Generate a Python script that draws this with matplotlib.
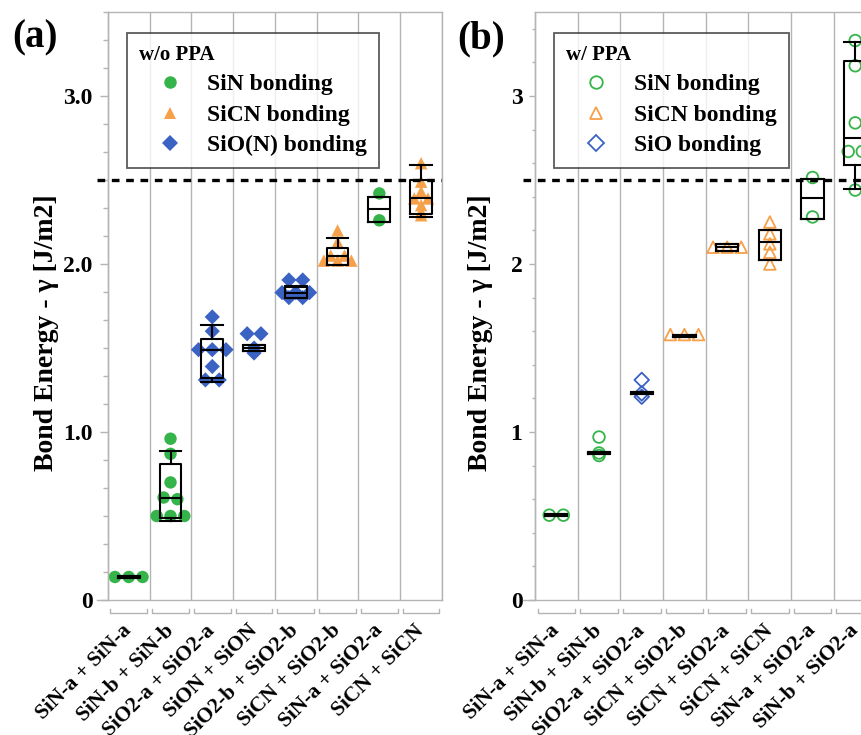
import numpy as np
import matplotlib
matplotlib.use('Agg')
import matplotlib.pyplot as plt
from matplotlib.lines import Line2D
from matplotlib.ticker import MultipleLocator, FixedFormatter

plt.rcParams['font.family'] = ['Liberation Serif', 'DejaVu Serif']
plt.rcParams['font.weight'] = 'bold'

GREEN = '#35b44a'
ORANGE = '#f6a04a'
BLUE = '#3b63c3'
GRID = '#b4b4b4'
COLORS = {'SiN': GREEN, 'SiCN': ORANGE, 'SiO': BLUE}
MARKERS = {'SiN': 'o', 'SiCN': '^', 'SiO': 'D'}

# ---- panel (a): w/o PPA ----
a_labels = ['SiN-a + SiN-a', 'SiN-b + SiN-b', 'SiO2-a + SiO2-a', 'SiON + SiON',
            'SiO2-b + SiO2-b', 'SiCN + SiO2-b', 'SiN-a + SiO2-a', 'SiCN + SiCN']
a_groups = ['SiN', 'SiN', 'SiO', 'SiO', 'SiO', 'SiCN', 'SiN', 'SiCN']
a_values = [
    [0.137, 0.137, 0.137],
    [0.96, 0.87, 0.70, 0.61, 0.60, 0.50, 0.50, 0.50],
    [1.685, 1.60, 1.49, 1.49, 1.49, 1.39, 1.31, 1.31],
    [1.585, 1.585, 1.50, 1.47],
    [1.905, 1.905, 1.83, 1.83, 1.83, 1.80, 1.80],
    [2.20, 2.13, 2.05, 2.05, 2.02, 2.02, 2.02],
    [2.42, 2.26],
    [2.60, 2.49, 2.43, 2.39, 2.39, 2.35, 2.31, 2.29],
]
a_q1 = [0.130, 0.49, 1.32, 1.48, 1.80, 1.995, 2.25, 2.30]
a_med = [0.137, 0.605, 1.49, 1.50, 1.83, 2.045, 2.33, 2.39]
a_q3 = [0.145, 0.81, 1.555, 1.52, 1.865, 2.095, 2.40, 2.50]
a_lo = [0.130, 0.47, 1.30, 1.48, 1.795, 1.995, 2.25, 2.28]
a_hi = [0.145, 0.885, 1.635, 1.52, 1.87, 2.155, 2.40, 2.59]

# ---- panel (b): w/ PPA ----
b_labels = ['SiN-a + SiN-a', 'SiN-b + SiN-b', 'SiO2-a + SiO2-a', 'SiCN + SiO2-b',
            'SiCN + SiO2-a', 'SiCN + SiCN', 'SiN-a + SiO2-a', 'SiN-b + SiO2-a']
b_groups = ['SiN', 'SiN', 'SiO', 'SiCN', 'SiCN', 'SiCN', 'SiN', 'SiN']
b_values = [
    [0.505, 0.505],
    [0.97, 0.875, 0.86],
    [1.31, 1.23, 1.21],
    [1.58, 1.58, 1.58],
    [2.10, 2.10, 2.10],
    [2.25, 2.18, 2.12, 2.07, 2.00],
    [2.515, 2.28],
    [3.33, 3.18, 2.84, 2.67, 2.67, 2.44],
]
b_q1 = [0.500, 0.868, 1.225, 1.565, 2.075, 2.025, 2.27, 2.59]
b_med = [0.505, 0.875, 1.232, 1.572, 2.10, 2.13, 2.39, 2.75]
b_q3 = [0.510, 0.882, 1.240, 1.580, 2.12, 2.20, 2.505, 3.21]
b_lo = [0.500, 0.868, 1.225, 1.565, 2.075, 2.025, 2.27, 2.445]
b_hi = [0.510, 0.882, 1.240, 1.580, 2.12, 2.20, 2.505, 3.32]


def swarm_offsets(vals, step=0.33, tol=0.012):
    order = np.argsort(vals)[::-1]
    offs = np.zeros(len(vals))
    clusters = []
    for idx in order:
        if clusters and abs(vals[clusters[-1][0]] - vals[idx]) <= tol:
            clusters[-1].append(idx)
        else:
            clusters.append([idx])
    for c in clusters:
        n = len(c)
        for k, idx in enumerate(c):
            offs[idx] = (k - (n - 1) / 2) * step
    return offs


def draw_panel(ax, xmin, labels, groups, values, q1, med, q3, lo, hi, filled,
               yticklabels, minor_step, title, names, label_x, tick_len):
    n = len(labels)
    ax.set_xlim(xmin, n)
    ax.set_ylim(0, 3.5)

    for i, vals in enumerate(values):
        vals = np.asarray(vals)
        x = i + 0.5 + swarm_offsets(vals)
        c = COLORS[groups[i]]
        m = MARKERS[groups[i]]
        if filled:
            ax.scatter(x, vals, s=80 if m != 'D' else 60, marker=m, color=c,
                       edgecolors='none', zorder=2)
        else:
            ax.scatter(x, vals, s=70 if m != 'D' else 55, marker=m, facecolors='none',
                       edgecolors=c, linewidths=1.3, zorder=2)

    stats = [dict(q1=q1[i], med=med[i], q3=q3[i], whislo=lo[i], whishi=hi[i], fliers=[])
             for i in range(n)]
    lp = dict(color='black', linewidth=1.5)
    ax.bxp(stats, positions=np.arange(n) + 0.5, widths=0.52, capwidths=0.52,
           showfliers=False, boxprops=lp, medianprops=lp, whiskerprops=lp, capprops=lp,
           manage_ticks=False, zorder=3)

    ax.axhline(2.5, color='black', lw=2.4, ls=(0, (2.3, 2.0)), zorder=4)

    # x axis
    ax.set_xticks(np.arange(n) + 0.5)
    ax.set_xticklabels(labels, rotation=45, ha='right', va='center',
                       rotation_mode='anchor', fontsize=15.5, fontweight='bold')
    ax.set_xticks(np.arange(n + 1), minor=True)
    ax.tick_params(axis='x', which='both', length=0, pad=20)
    ax.grid(True, axis='x', which='minor', color=GRID, lw=1)
    ax.set_axisbelow(True)
    for i in range(n):
        ax.plot([i + 0.06, i + 0.06, i + 0.94, i + 0.94], [-0.016, -0.022, -0.022, -0.016],
                transform=ax.get_xaxis_transform(), color=GRID, lw=1, clip_on=False)

    # y axis
    ax.set_yticks([0, 1, 2, 3])
    ax.yaxis.set_major_formatter(FixedFormatter(yticklabels))
    ax.yaxis.set_minor_locator(MultipleLocator(minor_step))
    ax.tick_params(axis='y', which='major', direction='out', length=tick_len, width=1,
                   color=GRID, pad=5, labelsize=17)
    ax.tick_params(axis='y', which='minor', direction='out', length=tick_len * 0.6,
                   width=1, color=GRID)
    ax.set_ylabel('Bond Energy - γ [J/m2]', fontsize=20, fontweight='bold')
    ax.yaxis.set_label_coords(label_x, 0.455)

    for s in ['left', 'bottom', 'top', 'right']:
        ax.spines[s].set_color(GRID)
        ax.spines[s].set_linewidth(1)
    ax.spines['left'].set_position(('data', 0))
    ax.spines['top'].set_bounds(0, n)

    handles = []
    for g in ['SiN', 'SiCN', 'SiO']:
        if filled:
            handles.append(Line2D([], [], ls='none', marker=MARKERS[g], color=COLORS[g],
                                  markersize=9 if g != 'SiO' else 8, markeredgewidth=0))
        else:
            handles.append(Line2D([], [], ls='none', marker=MARKERS[g], color=COLORS[g],
                                  markerfacecolor='none', markersize=9 if g != 'SiO' else 8,
                                  markeredgewidth=1.3))
    leg = ax.legend(handles, names, title=title, loc='upper left',
                    bbox_to_anchor=(0.087, 0.964), borderaxespad=0, frameon=True,
                    fancybox=False, edgecolor='#333333', fontsize=17,
                    title_fontproperties=dict(weight='bold', size=15), alignment='left',
                    handlelength=2.6, handletextpad=0.3, borderpad=0.5, labelspacing=0.38)
    leg.get_frame().set_linewidth(1.3)
    leg.set_zorder(5)


fig = plt.figure(figsize=(8.61, 7.35), dpi=100)
ax1 = fig.add_axes([97 / 861, 135 / 735, 345 / 861, 588 / 735])
ax2 = fig.add_axes([523 / 861, 135 / 735, 353.6 / 861, 588 / 735])

draw_panel(ax1, -0.26, a_labels, a_groups, a_values, a_q1, a_med, a_q3, a_lo, a_hi, True,
           ['0', '1.0', '2.0', '3.0'], 1 / 6, 'w/o PPA',
           ['SiN bonding', 'SiCN bonding', 'SiO(N) bonding'], -0.11, 6)
draw_panel(ax2, -0.28, b_labels, b_groups, b_values, b_q1, b_med, b_q3, b_lo, b_hi, False,
           ['0', '1', '2', '3'], 0.2, 'w/ PPA',
           ['SiN bonding', 'SiCN bonding', 'SiO bonding'], -0.085, 4)

fig.text(12 / 861, 1 - 47 / 735, '(a)', fontsize=28, fontweight='bold', va='baseline')
fig.text(457 / 861, 1 - 48 / 735, '(b)', fontsize=28, fontweight='bold', va='baseline')

fig.savefig('out.png', dpi=100)
